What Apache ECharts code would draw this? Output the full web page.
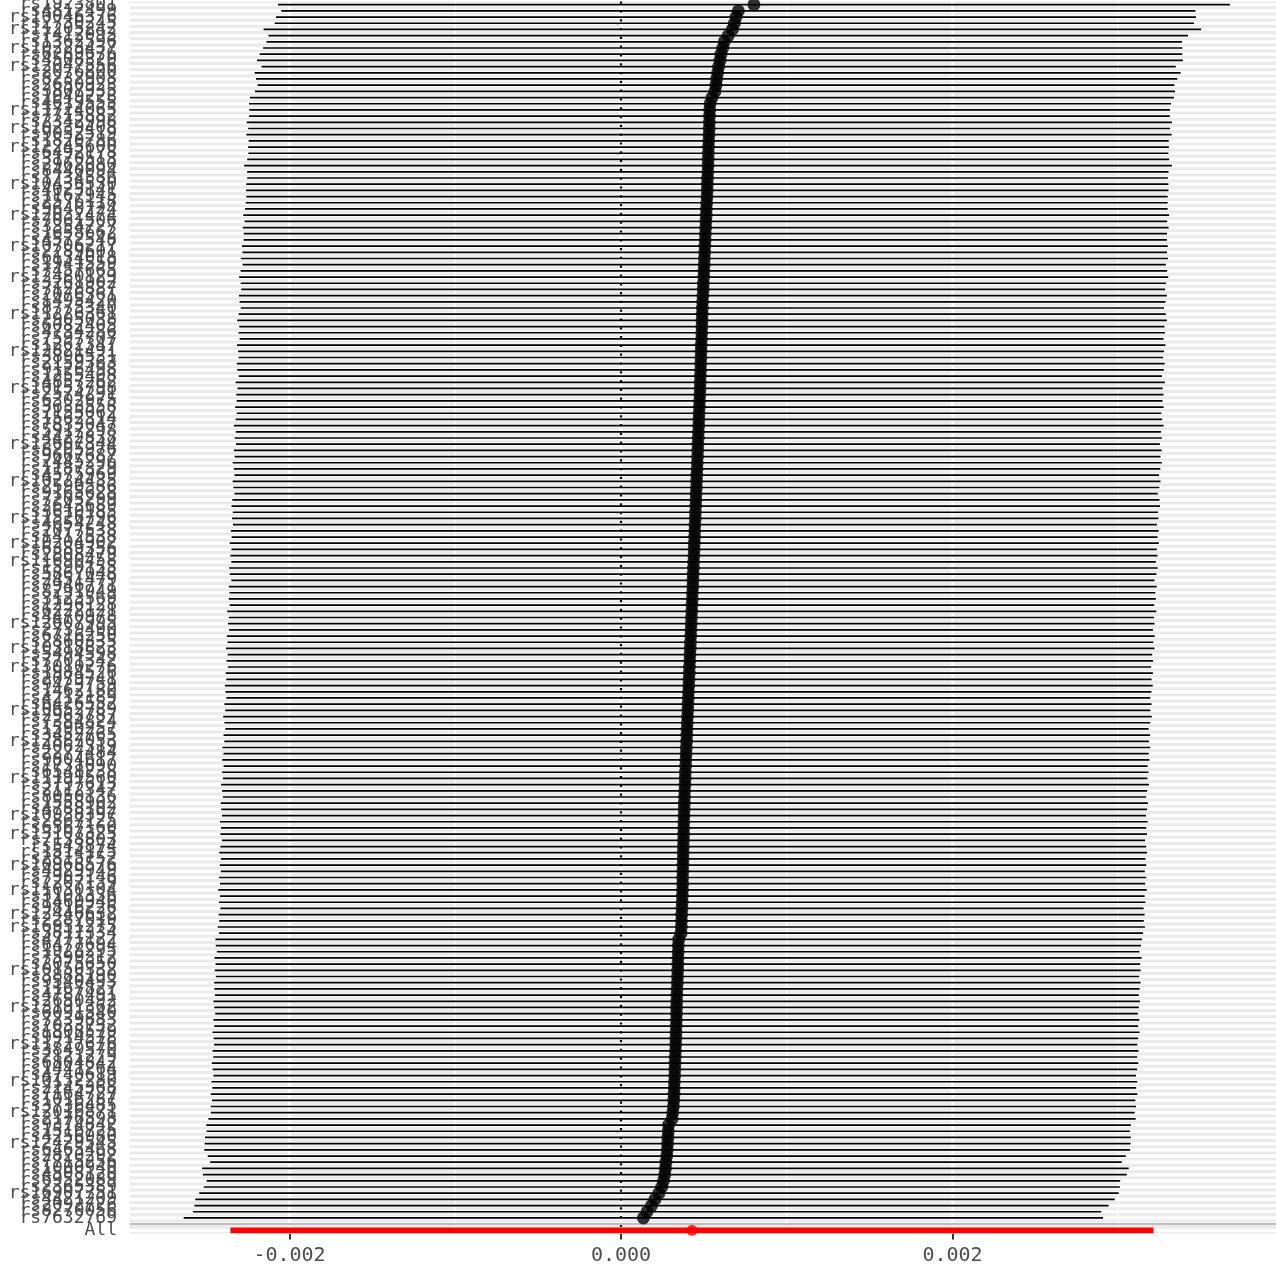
<!DOCTYPE html>
<html><head><meta charset="utf-8">
<script src="https://cdn.jsdelivr.net/npm/echarts@6/dist/echarts.min.js"></script>
<style>html,body{margin:0;padding:0;background:#fff}#c{width:1276px;height:1270px}</style>
</head><body><div id="c"></div><script>
const snps = ["rs1923801","rs4812499","rs10046376","rs2730245","rs11205242","rs7412093","rs1362596","rs10223437","rs6289676","rs4508320",
"rs12047556","rs2076800","rs8232908","rs2650923","rs3807935","rs1049228","rs4619555","rs11724065","rs7715882","rs2342998",
"rs10239408","rs9052519","rs1820786","rs12245600","rs6492178","rs3170513","rs2962080","rs8440094","rs1734586","rs10436530",
"rs4023141","rs1167945","rs2576118","rs9640724","rs12032474","rs7061506","rs3354727","rs1658662","rs4572548","rs10706217",
"rs2289601","rs6134018","rs1941559","rs7457665","rs12480129","rs3261902","rs7128887","rs2076361","rs1495420","rs8775340",
"rs11226361","rs2905038","rs6082405","rs4734286","rs7597707","rs1262347","rs12821491","rs3896531","rs2159363","rs9126498",
"rs1255408","rs4857262","rs10153798","rs2574291","rs6302975","rs3633558","rs7155062","rs1562314","rs7833047","rs5917298",
"rs4422838","rs12607344","rs8205976","rs9667687","rs2445296","rs1187329","rs4575969","rs10224435","rs2590586","rs9165628",
"rs7205299","rs2643689","rs3610185","rs11526796","rs4654248","rs2077538","rs1412538","rs10204902","rs6389356","rs2808479",
"rs11690458","rs1590155","rs5867048","rs2451479","rs7946771","rs8291949","rs3123569","rs1296128","rs6222121","rs4470978",
"rs12607995","rs2739490","rs6716250","rs2860335","rs10318823","rs5494598","rs7701342","rs13010276","rs1984526","rs2079741",
"rs9429759","rs1462180","rs4212189","rs6426552","rs10652789","rs2963787","rs7384824","rs1590257","rs3452765","rs12887053",
"rs4062319","rs2277484","rs9804617","rs1731090","rs6548238","rs11191560","rs3797613","rs2112347","rs8050136","rs1558902",
"rs4788102","rs10938397","rs2867125","rs6567160","rs13107325","rs7138803","rs543874","rs1514175","rs2815752","rs10968576",
"rs4929949","rs7903146","rs2207139","rs11030104","rs3101336","rs1460940","rs9816226","rs12446632","rs2287019","rs16951275",
"rs3817334","rs4771122","rs6477694","rs1928295","rs7599312","rs2075650","rs10150332","rs3888190","rs9540493","rs1167827",
"rs4787491","rs2650492","rs13191362","rs6091540","rs7239883","rs2033732","rs1808579","rs9914578","rs11727676","rs3849570",
"rs2121279","rs6804842","rs1441264","rs4740619","rs10132280","rs2245368","rs7164727","rs1016287","rs3736485","rs12016871",
"rs2176598","rs9374842","rs1516725","rs4256980","rs12429545","rs6465468","rs2820292","rs7715256","rs1000940","rs4508120",
"rs6952089","rs2365389","rs16907751","rs4421209","rs2092726","rs8270056","rs7632769"];

const beta = [0.000802,0.000708,0.000694,0.000684,0.000672,0.000647,0.000623,0.000614,0.000603,0.000597,0.000589,0.000583,0.000577,0.000573,0.000567,0.000549,0.000537,
0.000535,0.000534,0.000533,0.000532,0.000531,0.000529,0.000528,0.000527,0.000526,0.000525,0.000524,0.000522,0.000521,0.000520,0.000519,
0.000517,0.000515,0.000514,0.000512,0.000511,0.000509,0.000508,0.000506,0.000505,0.000503,0.000502,0.000500,0.000499,0.000497,0.000496,0.000494,0.000492,
0.000491,0.000490,0.000489,0.000488,0.000487,0.000486,0.000484,0.000483,0.000482,0.000481,0.000480,0.000479,0.000478,0.000477,0.000476,0.000474,
0.000473,0.000471,0.000470,0.000469,0.000467,0.000466,0.000464,0.000463,0.000462,0.000460,0.000459,0.000457,0.000456,0.000455,0.000453,0.000452,
0.000451,0.000449,0.000448,0.000446,0.000445,0.000444,0.000442,0.000441,0.000440,0.000438,0.000437,0.000435,0.000434,0.000433,0.000431,0.000430,
0.000428,0.000427,0.000425,0.000424,0.000422,0.000421,0.000419,0.000418,0.000416,0.000415,0.000413,0.000412,0.000410,0.000409,0.000407,0.000406,
0.000404,0.000403,0.000401,0.000400,0.000398,0.000397,0.000396,0.000394,0.000393,0.000391,0.000390,0.000388,0.000387,0.000386,0.000384,0.000383,
0.000382,0.000381,0.000380,0.000379,0.000378,0.000378,0.000377,0.000376,0.000375,0.000375,0.000374,0.000373,0.000372,0.000372,0.000371,0.000370,
0.000369,0.000368,0.000366,0.000365,0.000364,0.000362,
0.000348,0.000346,0.000345,0.000344,0.000343,0.000342,0.000341,0.000340,0.000338,0.000337,
0.000336,0.000335,0.000335,0.000334,0.000333,0.000332,0.000331,0.000330,
0.000329,0.000327,0.000326,0.000325,0.000324,0.000322,0.000321,0.000320,0.000318,0.000316,0.000312,0.000308,
0.000287,0.000285,0.000283,0.000281,0.000279,0.000276,0.000271,0.000268,0.000264,0.000256,0.000246,0.000229,0.000205,0.000184,0.000157,0.000135];

const se = [0.001465,0.001407,0.001416,0.001415,0.001443,0.001415,0.001409,0.001415,0.001420,0.001425,0.001407,0.001425,0.001418,0.001411,0.001416,0.001422,0.001419,0.001417,0.001417,0.001424,
0.001419,0.001424,0.001416,0.001417,0.001416,0.001419,0.001428,0.001418,0.001417,0.001419,0.001420,0.001418,0.001419,0.001420,0.001425,0.001420,0.001425,0.001421,0.001421,0.001425,
0.001423,0.001427,0.001421,0.001426,0.001430,0.001424,0.001422,0.001428,0.001425,0.001421,0.001427,0.001431,
0.001424,0.001426,0.001422,0.001429,0.001425,0.001423,0.001428,0.001426,0.001421,0.001430,0.001424,0.001427,
0.001425,0.001429,0.001423,0.001426,0.001431,0.001424,0.001427,0.001422,0.001428,0.001425,0.001430,0.001426,
0.001423,0.001428,0.001425,0.001421,0.001427,0.001429,0.001424,0.001426,0.001422,0.001428,0.001425,0.001430,
0.001424,0.001427,0.001423,0.001429,0.001426,0.001421,0.001428,0.001425,0.001427,0.001423,0.001430,0.001424,
0.001426,0.001422,0.001428,0.001425,0.001429,0.001423,0.001426,0.001421,0.001427,0.001424,0.001428,0.001425,
0.001422,0.001427,0.001424,0.001429,0.001425,0.001421,0.001426,0.001423,0.001428,0.001424,0.001427,0.001422,
0.001426,0.001423,0.001428,0.001424,0.001421,0.001427,0.001425,0.001422,0.001428,0.001424,0.001426,0.001421,
0.001425,0.001428,0.001423,0.001426,0.001422,0.001427,0.001424,0.001429,0.001423,0.001426,0.001421,0.001425,
0.001423,0.001427,0.001422,0.001426,0.001424,0.001420,0.001427,0.001423,0.001425,0.001421,0.001426,0.001424,
0.001422,0.001426,0.001423,0.001420,0.001425,0.001422,0.001427,0.001423,0.001421,0.001425,0.001422,0.001426,
0.001423,0.001420,0.001425,0.001422,0.001426,0.001421,0.001424,0.001422,0.001427,0.001423,0.001421,0.001425,
0.001425,0.001425,0.001413,0.001403,0.001426,0.001422,0.001406,0.001410,0.001415,0.001415,0.001407,0.001398,0.001415];

const allLabel = "All";
const allBeta = 0.000428;
const allSe = 0.0014206;
const xTickValues = [-0.002, 0, 0.002];
const xMinorValues = [-0.001, 0.001, 0.003];
const xRange = [-0.0029623, 0.0039517];

const levels = snps.concat(["", allLabel]);
const sepIndex = levels.indexOf("");
const allIndex = levels.indexOf(allLabel);
const z = 1.96;

const chart = echarts.init(document.getElementById('c'), null, {renderer: 'canvas'});

function hLine(color, width) {
  return function (params, api) {
    const y = api.coord([0, api.value(1)])[1];
    const cs = params.coordSys;
    return {type: 'line', silent: true,
      shape: {x1: cs.x, y1: y, x2: cs.x + cs.width, y2: y},
      style: {stroke: color, lineWidth: width}};
  };
}
function vLine(color, width, dash) {
  return function (params, api) {
    const x = api.coord([api.value(0), 0])[0];
    const cs = params.coordSys;
    return {type: 'line', silent: true,
      shape: {x1: x, y1: cs.y, x2: x, y2: cs.y + cs.height},
      style: {stroke: color, lineWidth: width, lineDash: dash || null}};
  };
}
function seg(color, width) {
  return function (params, api) {
    const p1 = api.coord([api.value(0), api.value(1)]);
    const p2 = api.coord([api.value(2), api.value(1)]);
    return {type: 'line', silent: true,
      shape: {x1: p1[0], y1: p1[1], x2: p2[0], y2: p2[1]},
      style: {stroke: color, lineWidth: width}};
  };
}

const font = "'DejaVu Sans Mono', 'Liberation Mono', monospace";

chart.setOption({
  animation: false,
  grid: {left: 130, right: 0, top: 1.6, bottom: 36.6, show: true, backgroundColor: '#EBEBEB', borderWidth: 0, containLabel: false, outerBoundsMode: 'none'},
  xAxis: {
    type: 'value', min: xRange[0], max: xRange[1],
    axisLine: {show: false},
    splitLine: {show: false},
    axisTick: {show: true, customValues: xTickValues, length: 6, lineStyle: {color: '#333333', width: 2}},
    axisLabel: {customValues: xTickValues, formatter: v => Number(v).toFixed(3), fontFamily: font, fontSize: 20, color: '#4D4D4D', margin: 12}
  },
  yAxis: {
    type: 'category', data: levels, inverse: true,
    axisLine: {show: false},
    splitLine: {show: false},
    axisTick: {show: true, alignWithLabel: true, interval: 0, length: 5, lineStyle: {color: '#333333', width: 1.5}},
    axisLabel: {interval: 0, fontFamily: font, fontSize: 18, color: '#4D4D4D', margin: 13}
  },
  series: [
    {type: 'custom', name: 'hgrid', renderItem: hLine('#FFFFFF', 3.2), encode: {x: 0, y: 1},
     data: levels.map((_, i) => [0, i])},
    {type: 'custom', name: 'vminor', renderItem: vLine('#FFFFFF', 1.3), encode: {x: 0, y: 1},
     data: xMinorValues.map(v => [v, 0])},
    {type: 'custom', name: 'vmajor', renderItem: vLine('#FFFFFF', 2.6), encode: {x: 0, y: 1},
     data: xTickValues.map(v => [v, 0])},
    {type: 'custom', name: 'zero', renderItem: vLine('#000000', 2.2, [2.2, 6.6]), encode: {x: 0, y: 1},
     data: [[0, 0]]},
    {type: 'custom', name: 'sep', renderItem: hLine('#BEBEBE', 2.2), encode: {x: 0, y: 1},
     data: [[0, sepIndex]]},
    {type: 'custom', name: 'ci', renderItem: seg('#000000', 1.7), encode: {x: [0, 2], y: 1},
     data: beta.map((b, i) => [b - z * se[i], i, b + z * se[i]])},
    {type: 'scatter', name: 'snp', symbol: 'circle', symbolSize: 13, itemStyle: {color: '#000000'},
     data: beta.map((b, i) => [b, i])},
    {type: 'custom', name: 'allci', renderItem: seg('#FF0000', 5.7), encode: {x: [0, 2], y: 1},
     data: [[allBeta - z * allSe, allIndex, allBeta + z * allSe]]},
    {type: 'scatter', name: 'all', symbol: 'circle', symbolSize: 11, itemStyle: {color: '#FF0000'},
     data: [[allBeta, allIndex]]}
  ]
});
</script></body></html>
